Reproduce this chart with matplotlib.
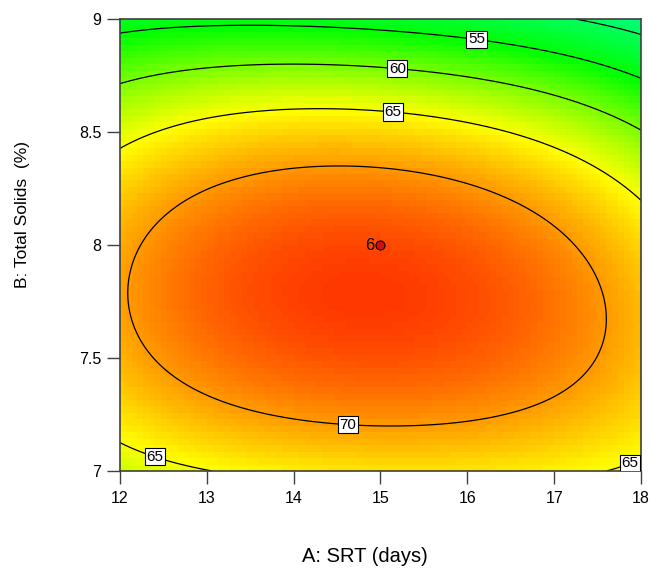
import numpy as np
import matplotlib
matplotlib.use("Agg")
import matplotlib.pyplot as plt
from matplotlib.colors import LinearSegmentedColormap

plt.rcParams['font.family'] = ['Liberation Sans', 'DejaVu Sans']

# coded model: A = (SRT - 15) / 3, B = (TS - 8) / 1
coef_names = ['Intercept', 'A', 'B', 'AB', 'A^2', 'B^2', 'B^3', 'A^2B^2', 'A^4', 'B^4']
coef_values = [73.926, -1.046, -6.504, -1.643, -5.465, -14.628, 0.006, 3.192, -0.358, 0.600]

srt_range = [12, 18]
ts_range = [7, 9]
contour_levels = [50, 55, 60, 65, 70]
xticks = [12, 13, 14, 15, 16, 17, 18]
yticks = [7, 7.5, 8, 8.5, 9]
ytick_labels = ['7', '7.5', '8', '8.5', '9']

# design center point (6 replicates)
center_srt = [15]
center_ts = [8]
center_reps = ['6']

# where the contour values are written
label_pos = [(16.12, 8.95), (15.2, 8.81), (15.14, 8.58),
             (14.63, 7.22), (12.44, 7.11), (17.85, 7.06)]


def response(srt, ts):
    a = (srt - 15) / 3.0
    b = ts - 8
    c = dict(zip(coef_names, coef_values))
    return (c['Intercept'] + c['A'] * a + c['B'] * b + c['AB'] * a * b
            + c['A^2'] * a ** 2 + c['B^2'] * b ** 2 + c['B^3'] * b ** 3
            + c['A^2B^2'] * a ** 2 * b ** 2 + c['A^4'] * a ** 4 + c['B^4'] * b ** 4)


# blue -> cyan -> green -> yellow -> red, pinned to response values
vmin, vmax = 30, 77.5
stops = [(30, '#0000ff'), (40, '#00ffff'), (55, '#00ff00'),
         (65, '#ffff00'), (77.5, '#ff0000')]
cmap = LinearSegmentedColormap.from_list(
    'de', [((v - vmin) / (vmax - vmin), c) for v, c in stops])

fig = plt.figure(figsize=(6.5, 5.68), dpi=100)
ax = fig.add_axes([0.1846, 0.1708, 0.8015, 0.7957])

# coarse grid for the colour map, fine grid for the lines
xs = np.linspace(*srt_range, 90)
ys = np.linspace(*ts_range, 70)
X, Y = np.meshgrid(xs, ys)
ax.imshow(response(X, Y), extent=srt_range + ts_range, origin='lower',
          aspect='auto', cmap=cmap, vmin=vmin, vmax=vmax,
          interpolation='nearest', zorder=0)

xf = np.linspace(*srt_range, 400)
yf = np.linspace(*ts_range, 300)
XF, YF = np.meshgrid(xf, yf)
cs = ax.contour(XF, YF, response(XF, YF), levels=contour_levels,
                colors='black', linewidths=0.9, zorder=2)
labels = ax.clabel(cs, fmt='%d', fontsize=11, inline=False, manual=label_pos)
for t in labels:
    t.set_rotation(0)
    t.set_zorder(5)
    t.set_bbox(dict(boxstyle='square,pad=0.1', fc='white', ec='black', lw=0.8))

ax.scatter(center_srt, center_ts, s=42, color='#d01010', edgecolors='black',
           linewidths=0.8, zorder=6)
for x, y, n in zip(center_srt, center_ts, center_reps):
    ax.text(x - 0.07, y, n, ha='right', va='center', fontsize=12, zorder=6)

ax.set_xlim(srt_range)
ax.set_ylim(ts_range)
ax.set_xticks(xticks)
ax.set_yticks(yticks)
ax.set_yticklabels(ytick_labels)
ax.tick_params(direction='out', length=9.5, width=1, color='#404040',
               labelsize=11.5)
ax.tick_params(axis='x', pad=5)
ax.tick_params(axis='y', pad=4)
for s in ax.spines.values():
    s.set_color('#404040')
    s.set_linewidth(1.2)

fig.text(0.5615, 0.0194, 'A: SRT (days)', ha='center', va='center', fontsize=14.5)
fig.text(0.034, 0.623, 'B: Total Solids  (%)', ha='center', va='center',
         rotation=90, fontsize=12.5)

fig.savefig('out.png', dpi=100)
